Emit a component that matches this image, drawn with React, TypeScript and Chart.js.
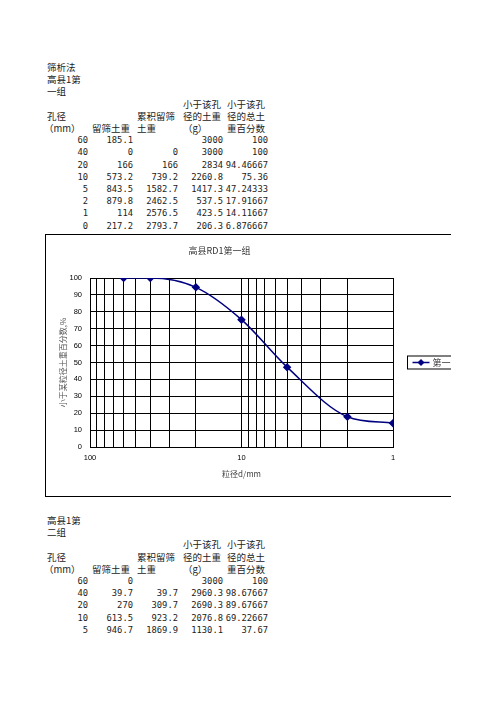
import React, { useEffect, useRef } from "react";
import { Chart, registerables } from "chart.js";

Chart.register(...registerables);

// ---- Group 1 table data ----
const sieveSizes1 = [60, 40, 20, 10, 5, 2, 1, 0];
const retained1 = [185.1, 0, 166, 573.2, 843.5, 879.8, 114, 217.2];
const cumulative1: (number | null)[] = [null, 0, 166, 739.2, 1582.7, 2462.5, 2576.5, 2793.7];
const passingMass1 = [3000, 3000, 2834, 2260.8, 1417.3, 537.5, 423.5, 206.3];
const passingPct1 = [100, 100, 94.46667, 75.36, 47.24333, 17.91667, 14.11667, 6.876667];

// ---- Group 2 table data ----
const sieveSizes2 = [60, 40, 20, 10, 5];
const retained2 = [0, 39.7, 270, 613.5, 946.7];
const cumulative2: (number | null)[] = [null, 39.7, 309.7, 923.2, 1869.9];
const passingMass2 = [3000, 2960.3, 2690.3, 2076.8, 1130.1];
const passingPct2 = [100, 98.67667, 89.67667, 69.22667, 37.67];

// ---- Chart axis ticks ----
const xTickValues = [1, 2, 3, 4, 5, 6, 7, 8, 9, 10, 20, 30, 40, 50, 60, 70, 80, 90, 100];
const xTickLabels = [1, 10, 100];
const chartTitle = "高县RD1第一组";
const xTitle = "粒径d/mm";
const yTitle = "小于某粒径土重百分数,%";
const seriesName = "第一组";

const CJK = '"Noto Sans CJK SC", "Noto Sans", sans-serif';
const NUM = '"DejaVu Sans Mono", monospace';
const TICK = '"Liberation Sans", Arial, sans-serif';

const colLeft = [47, 92, 137, 183, 227];
const colRight = [88, 133, 178, 223, 268];
const STEP = 12.2;

function T(props: { x: number; y: number; text: string; right?: boolean; num?: boolean }) {
  const { x, y, text, right, num } = props;
  const style: React.CSSProperties = {
    position: "absolute",
    top: y - 6,
    height: 12,
    lineHeight: "12px",
    fontSize: num ? 8.8 : 9.5,
    fontFamily: num ? NUM : CJK,
    color: "#222",
    whiteSpace: "nowrap",
  };
  if (right) style.right = 496 - x;
  else style.left = x;
  return <div style={style}>{text}</div>;
}

function fmt(v: number | null) {
  return v === null ? "" : String(v);
}

function Table(props: {
  y0: number;
  titleLines: string[];
  sizes: number[];
  retained: number[];
  cumulative: (number | null)[];
  passing: number[];
  pct: number[];
}) {
  const { y0, titleLines, sizes, retained, cumulative, passing, pct } = props;
  const els: React.ReactNode[] = [];
  let line = 0;
  titleLines.forEach((t, i) => {
    els.push(<T key={"t" + i} x={colLeft[0]} y={y0 + STEP * line} text={t} />);
    line++;
  });
  const h1 = y0 + STEP * line;
  const h2 = h1 + STEP;
  const h3 = h2 + STEP;
  els.push(<T key="h1d" x={colLeft[3]} y={h1} text="小于该孔" />);
  els.push(<T key="h1e" x={colLeft[4]} y={h1} text="小于该孔" />);
  els.push(<T key="h2a" x={colLeft[0]} y={h2} text="孔径" />);
  els.push(<T key="h2c" x={colLeft[2]} y={h2} text="累积留筛" />);
  els.push(<T key="h2d" x={colLeft[3]} y={h2} text="径的土重" />);
  els.push(<T key="h2e" x={colLeft[4]} y={h2} text="径的总土" />);
  els.push(<T key="h3a" x={colLeft[0] - 3} y={h3} text="（mm）" />);
  els.push(<T key="h3b" x={colLeft[1]} y={h3} text="留筛土重" />);
  els.push(<T key="h3c" x={colLeft[2]} y={h3} text="土重" />);
  els.push(<T key="h3d" x={colLeft[3]} y={h3} text="（g）" />);
  els.push(<T key="h3e" x={colLeft[4]} y={h3} text="重百分数" />);
  sizes.forEach((s, i) => {
    const y = h3 + STEP * (i + 1);
    const vals = [fmt(s), fmt(retained[i]), fmt(cumulative[i]), fmt(passing[i]), fmt(pct[i])];
    vals.forEach((v, c) => {
      if (v !== "") els.push(<T key={"r" + i + "c" + c} x={colRight[c]} y={y} text={v} right num />);
    });
  });
  return <>{els}</>;
}

const CW = 420;
const CH = 261;

function SieveChart() {
  const ref = useRef<HTMLCanvasElement>(null);
  useEffect(() => {
    if (!ref.current) return;
    const pts = sieveSizes1
      .map((s, i) => ({ x: s, y: passingPct1[i] }))
      .filter((p) => p.x > 0);

    const boxLegend = {
      id: "boxLegend",
      afterDraw(chart: any) {
        const ctx = chart.ctx as CanvasRenderingContext2D;
        const area = chart.chartArea;
        const bx = area.right + 14.5;
        const by = (area.top + area.bottom) / 2 - 6.5;
        const cy = by + 6.5;
        ctx.save();
        ctx.strokeStyle = "#000";
        ctx.lineWidth = 1;
        ctx.strokeRect(bx, by, 64, 13);
        ctx.strokeStyle = "#000080";
        ctx.lineWidth = 1.5;
        ctx.beginPath();
        ctx.moveTo(bx + 5, cy);
        ctx.lineTo(bx + 22, cy);
        ctx.stroke();
        ctx.fillStyle = "#000080";
        ctx.beginPath();
        const mx = bx + 13.5;
        ctx.moveTo(mx, cy - 3.5);
        ctx.lineTo(mx + 3.5, cy);
        ctx.lineTo(mx, cy + 3.5);
        ctx.lineTo(mx - 3.5, cy);
        ctx.closePath();
        ctx.fill();
        ctx.fillStyle = "#333";
        ctx.font = '9px ' + CJK;
        ctx.textBaseline = "middle";
        ctx.fillText(seriesName, bx + 25, cy);
        ctx.restore();
      },
    };

    const chart = new Chart(ref.current, {
      type: "line",
      data: {
        datasets: [
          {
            label: seriesName,
            data: pts,
            borderColor: "#000080",
            backgroundColor: "#000080",
            borderWidth: 1.5,
            pointStyle: "rectRot",
            pointRadius: 3.2,
            pointBackgroundColor: "#000080",
            pointBorderColor: "#000080",
            cubicInterpolationMode: "monotone",
            fill: false,
          },
        ],
      },
      options: {
        animation: false,
        responsive: false,
        devicePixelRatio: 1,
        layout: { padding: { left: 0, right: 73, top: 0, bottom: 0 } },
        plugins: {
          legend: { display: false },
          tooltip: { enabled: false },
          title: {
            display: true,
            text: chartTitle,
            color: "#333",
            font: { family: CJK, size: 9, weight: "normal", lineHeight: 1.2 },
            padding: { top: 10.6, bottom: 21.6 },
          },
        },
        scales: {
          x: {
            type: "logarithmic",
            reverse: true,
            min: 1,
            max: 100,
            afterBuildTicks: (s: any) => {
              s.ticks = xTickValues.map((v) => ({ value: v }));
            },
            afterFit: (s: any) => {
              s.height = CH - 212;
            },
            ticks: {
              autoSkip: false,
              maxRotation: 0,
              padding: 6,
              color: "#000",
              font: { family: TICK, size: 7.5 },
              callback: (v: any) => (xTickLabels.includes(Number(v)) ? String(v) : ""),
            },
            grid: { color: "#000", lineWidth: 1, drawTicks: false },
            border: { color: "#000", width: 1 },
            title: {
              display: true,
              text: xTitle,
              color: "#444",
              font: { family: CJK, size: 8, lineHeight: 1.2 },
              padding: { top: 0, bottom: 17.2 },
            },
          },
          y: {
            min: 0,
            max: 100,
            afterFit: (s: any) => {
              s.width = 44;
            },
            ticks: {
              stepSize: 10,
              padding: 8,
              color: "#000",
              font: { family: TICK, size: 7.5 },
            },
            grid: { color: "#000", lineWidth: 1, drawTicks: false },
            border: { color: "#000", width: 1 },
            title: {
              display: true,
              text: yTitle,
              color: "#555",
              font: { family: CJK, size: 8, lineHeight: 1.2 },
              padding: { top: 12.2, bottom: 0 },
            },
          },
        },
      } as any,
      plugins: [boxLegend],
    });
    return () => chart.destroy();
  }, []);
  return <canvas ref={ref} width={CW} height={CH} style={{ display: "block", width: CW, height: CH }} />;
}

export default function App() {
  return (
    <div style={{ position: "absolute", left: 0, top: 0, width: 496, height: 702, background: "#fff", overflow: "hidden" }}>
      <Table
        y0={67}
        titleLines={["筛析法", "高县1第", "一组"]}
        sizes={sieveSizes1}
        retained={retained1}
        cumulative={cumulative1}
        passing={passingMass1}
        pct={passingPct1}
      />
      <div style={{ position: "absolute", left: 0, top: 0, width: 451, height: 702, overflow: "hidden" }}>
        <div style={{ position: "absolute", left: 45, top: 234, width: CW, height: CH, border: "1px solid #000" }}>
          <SieveChart />
        </div>
      </div>
      <Table
        y0={520}
        titleLines={["高县1第", "二组"]}
        sizes={sieveSizes2}
        retained={retained2}
        cumulative={cumulative2}
        passing={passingMass2}
        pct={passingPct2}
      />
    </div>
  );
}
